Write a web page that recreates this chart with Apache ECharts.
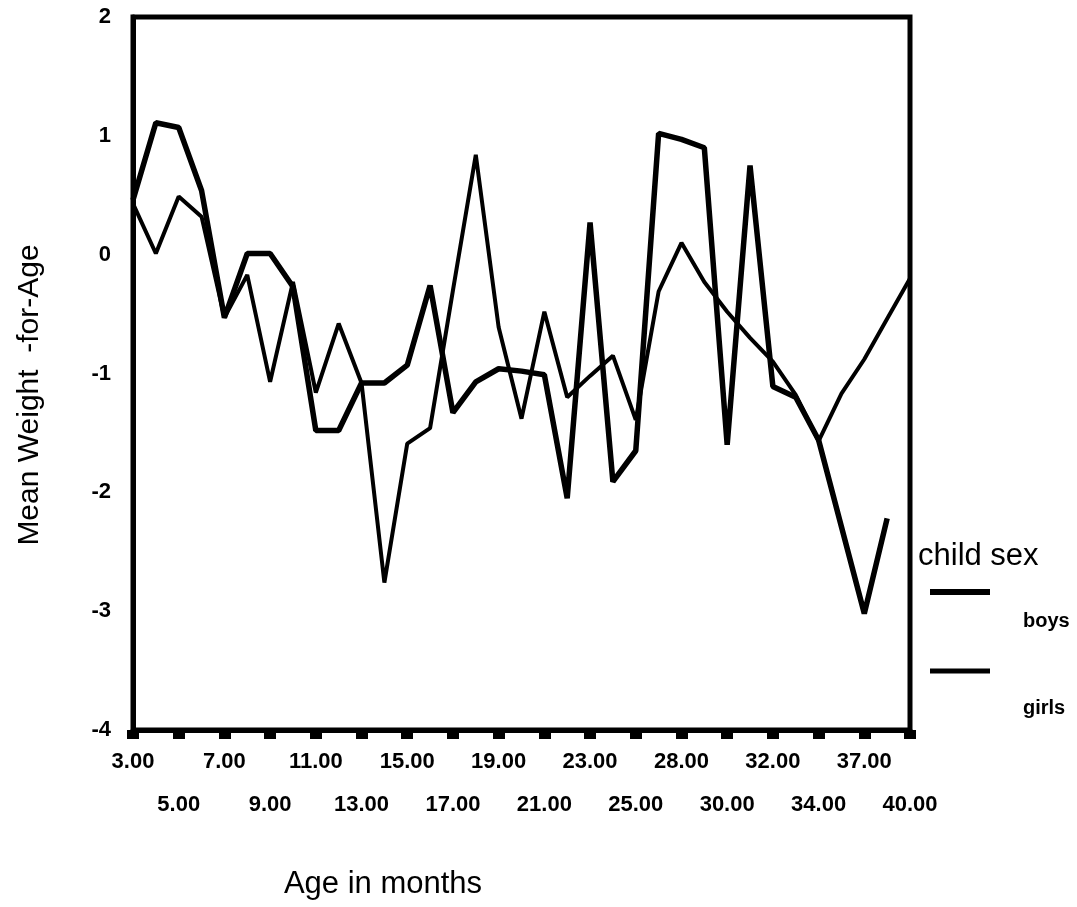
<!DOCTYPE html>
<html>
<head>
<meta charset="utf-8">
<script src="https://cdn.jsdelivr.net/npm/echarts@6/dist/echarts.min.js"></script>
<style>
  html, body { margin: 0; padding: 0; background: #fff; }
  #chart { width: 1077px; height: 907px; }
</style>
</head>
<body>
<div id="chart"></div>
<script>
// age in months (x categories)
const ages = [3, 4, 5, 6, 7, 8, 9, 10, 11, 12, 13, 14, 15, 16, 17, 18, 19, 20, 21, 22,
  23, 24, 25, 26, 28, 29, 30, 31, 32, 33, 34, 35, 37, 38, 40];

// mean weight-for-age z-scores
const boys = [0.46, 1.11, 1.07, 0.54, -0.53, 0.01, 0.01, -0.27, -1.48, -1.48, -1.08, -1.08,
  -0.93, -0.26, -1.33, -1.07, -0.96, -0.98, -1.01, -2.05, 0.27, -1.91, -1.65, 1.02, 0.97,
  0.9, -1.6, 0.75, -1.11, -1.2, -1.56, -2.29, -3.02, -2.22, null];
const girls = [0.43, 0.01, 0.49, 0.32, -0.53, -0.17, -1.07, -0.23, -1.16, -0.58, -1.08, -2.76,
  -1.59, -1.46, -0.3, 0.84, -0.61, -1.38, -0.48, -1.2, -1.02, -0.85, -1.39, -0.31, 0.1,
  -0.23, -0.48, -0.7, -0.9, -1.18, -1.57, -1.17, -0.88, -0.54, -0.2];

const font = "Liberation Sans, Arial, sans-serif";
const everyOther = i => i % 2 === 0;
const categories = ages.map(a => a.toFixed(2));

// two label rows, done as two bottom axes so the labels never clash
function labelRow(row, margin) {
  return {
    interval: everyOther,
    showMaxLabel: true,
    showMinLabel: true,
    hideOverlap: false,
    margin: margin,
    color: "#000",
    fontFamily: font,
    fontSize: 22,
    fontWeight: "bold",
    formatter: (v, i) => (i % 4 === row * 2 ? v : "")
  };
}

const chart = echarts.init(document.getElementById("chart"));

chart.setOption({
  animation: false,
  backgroundColor: "#fff",
  grid: {
    left: 133, right: 167, top: 17, bottom: 177,
    show: true, borderColor: "#000", borderWidth: 5
  },
  xAxis: [
    {
      type: "category",
      data: categories,
      boundaryGap: false,
      axisLine: { onZero: false, lineStyle: { color: "#000", width: 5 } },
      axisTick: { interval: everyOther, length: 9, lineStyle: { color: "#000", width: 12 } },
      axisLabel: labelRow(0, 21),
      splitLine: { show: false }
    },
    {
      type: "category",
      data: categories,
      position: "bottom",
      boundaryGap: false,
      axisLine: { show: false, onZero: false },
      axisTick: { show: false },
      axisLabel: labelRow(1, 64),
      splitLine: { show: false }
    }
  ],
  yAxis: {
    type: "value",
    min: -4, max: 2, interval: 1,
    axisLine: { show: true, onZero: false, lineStyle: { color: "#000", width: 5 } },
    axisTick: { show: false },
    axisLabel: { margin: 22, color: "#000", fontFamily: font, fontSize: 22, fontWeight: "bold" },
    splitLine: { show: false }
  },
  series: [
    {
      name: "boys", type: "line", data: boys, symbol: "none",
      lineStyle: { color: "#000", width: 5.5 }
    },
    {
      name: "girls", type: "line", data: girls, symbol: "none",
      lineStyle: { color: "#000", width: 4 }
    }
  ],
  graphic: [
    {
      type: "text", x: 30, y: 395, rotation: Math.PI / 2,
      style: { text: "Mean Weight  -for-Age", font: "30px " + font, fill: "#000", align: "center", verticalAlign: "middle" }
    },
    {
      type: "text", x: 383, y: 884,
      style: { text: "Age in months", font: "31px " + font, fill: "#000", align: "center", verticalAlign: "middle" }
    },
    {
      type: "text", x: 918, y: 556,
      style: { text: "child sex", font: "31px " + font, fill: "#000", align: "left", verticalAlign: "middle" }
    },
    {
      type: "line", shape: { x1: 930, y1: 592, x2: 990, y2: 592 },
      style: { stroke: "#000", lineWidth: 6 }
    },
    {
      type: "text", x: 1023, y: 621,
      style: { text: "boys", font: "bold 20px " + font, fill: "#000", align: "left", verticalAlign: "middle" }
    },
    {
      type: "line", shape: { x1: 930, y1: 671, x2: 990, y2: 671 },
      style: { stroke: "#000", lineWidth: 5 }
    },
    {
      type: "text", x: 1023, y: 708,
      style: { text: "girls", font: "bold 20px " + font, fill: "#000", align: "left", verticalAlign: "middle" }
    }
  ]
});
</script>
</body>
</html>
